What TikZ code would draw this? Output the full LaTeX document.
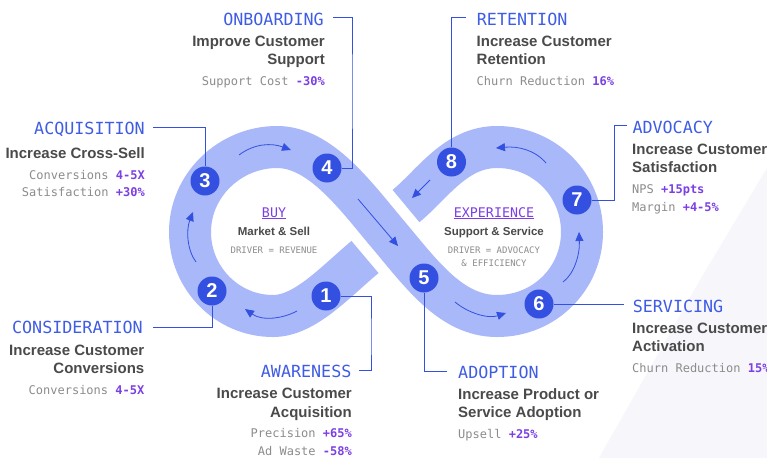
\documentclass[tikz,border=0pt]{standalone}
\usepackage{fontspec}
\setmainfont{Liberation Sans}
\setmonofont{DejaVu Sans Mono}
\usetikzlibrary{arrows.meta}
\definecolor{bandc}{HTML}{A9B8F9}
\definecolor{bluec}{HTML}{3350E0}
\definecolor{titlec}{HTML}{3F5CE4}
\definecolor{headc}{HTML}{4A4A4A}
\definecolor{greyc}{HTML}{8C8C8C}
\definecolor{purc}{HTML}{7B3FE4}
\definecolor{bgc}{HTML}{F6F6FB}
\newcommand{\pv}[1]{\textcolor{purc}{\textbf{#1}}}
\tikzset{
  num/.style={circle,fill=bluec,text=white,minimum size=29pt,inner sep=0pt,font=\fontsize{20}{20}\selectfont\bfseries},
  conn/.style={draw=bluec,line width=1pt},
  flow/.style={draw=bluec,line width=0.8pt,-{Triangle[length=9pt,width=8pt]}},
  tl/.style={inner ysep=0pt,text=titlec,font=\fontsize{16.7}{16.7}\selectfont\ttfamily,text height=15pt,text depth=0pt},
  tll/.style={tl,anchor=west},
  tlr/.style={tl,anchor=east},
  hl/.style={inner sep=0pt,text=headc,font=\fontsize{15}{15}\selectfont\bfseries,anchor=base west},
  hr/.style={hl,anchor=base east},
  ml/.style={inner sep=0pt,text=greyc,font=\fontsize{12}{12}\selectfont\ttfamily,anchor=base west},
  mr/.style={ml,anchor=base east},
  cbig/.style={inner sep=0pt,text=purc,font=\fontsize{13.3}{13.3}\selectfont\ttfamily,anchor=base},
  chead/.style={inner sep=0pt,text=headc,font=\fontsize{11.5}{11.5}\selectfont\bfseries,anchor=base},
  csmall/.style={inner sep=0pt,text=greyc,font=\fontsize{9}{9}\selectfont\ttfamily,anchor=base},
}
\begin{document}
\begin{tikzpicture}[x=1pt,y=-1pt]
\clip (0,0) rectangle (767,458);
\fill[white] (0,0) rectangle (767,458);
\fill[bgc] (599,458) -- (700,280) -- (767,168) -- (767,458) -- cycle;
% band
\draw[bandc,line width=42pt,line cap=butt]
  (365,257) .. controls (335,282) and (305,316) .. (273,316)
  .. controls (227,316) and (190,278) .. (190,232)
  .. controls (190,185) and (230,147) .. (277,147)
  .. controls (320,147) and (355,195) .. (386,232)
  .. controls (420,272) and (450,316) .. (497,316)
  .. controls (545,316) and (582,278) .. (582,232)
  .. controls (582,185) and (545,147) .. (497,147)
  .. controls (455,147) and (432,185) .. (406,206);
% flow arrows
\coordinate (fa1) at (239,155); \coordinate (fa2) at (291,150);
\coordinate (fb1) at (196,262); \coordinate (fb2) at (193,212);
\coordinate (fc1) at (297,311); \coordinate (fc2) at (245,309);
\coordinate (fd1) at (358,199); \coordinate (fd2) at (398,246);
\coordinate (fe1) at (455,302); \coordinate (fe2) at (506,313);
\coordinate (ff1) at (563,282); \coordinate (ff2) at (579,232);
\coordinate (fg1) at (546,163); \coordinate (fg2) at (496,148);
\coordinate (fh1) at (430,180); \coordinate (fh2) at (412,198);
\draw[flow] (fa1) .. controls (255,143) and (272,143) .. (fa2);
\draw[flow] (fb1) .. controls (187,250) and (186,230) .. (fb2);
\draw[flow] (fc1) .. controls (282,319) and (262,321) .. (fc2);
\draw[flow] (fd1) -- (fd2);
\draw[flow] (fe1) .. controls (468,313) and (488,319) .. (fe2);
\draw[flow] (ff1) .. controls (574,274) and (580,255) .. (ff2);
\draw[flow] (fg1) .. controls (535,150) and (518,146) .. (fg2);
\draw[flow] (fh1) -- (fh2);
% circles
\node[num] (n1) at (326,296) {1};
\node[num] (n2) at (212,291) {2};
\node[num] (n3) at (205,181) {3};
\node[num] (n4) at (327,168) {4};
\node[num] (n5) at (424,278) {5};
\node[num] (n6) at (539,304) {6};
\node[num] (n7) at (577,200) {7};
\node[num] (n8) at (451.5,162) {8};
% titles
\node[tlr,inner xsep=7.4pt] (t1) at (359,370) {AWARENESS};
\node[tlr,inner xsep=10pt,text height=11pt] (t2) at (153,327.5) {CONSIDERATION};
\node[tlr,inner xsep=8pt] (t3) at (153,127) {ACQUISITION};
\node[tlr,inner xsep=9pt] (t4) at (333,17.5) {ONBOARDING};
\node[tll,inner xsep=11pt] (t5) at (447,371) {ADOPTION};
\node[tll,inner xsep=8.6pt] (t6) at (624,305) {SERVICING};
\node[tll,inner xsep=5.3pt] (t7) at (627,125.5) {ADVOCACY};
\node[tll,inner xsep=11pt] (t8) at (465.7,17.5) {RETENTION};
% connector bends
\coordinate (k1) at (371,340);
\coordinate (k4) at (352,90);
\coordinate (k7) at (614,160);
% connectors
\draw[conn] (n1) -| (k1) |- (t1);
\draw[conn] (n2) |- (t2);
\draw[conn] (n3) |- (t3);
\draw[conn] (n4) -| (k4) |- (t4);
\draw[conn] (n5) |- (t5);
\draw[conn] (n6) -- (t6.west |- n6);
\draw[conn] (n7) -| (k7) |- (t7);
\draw[conn] (n8) |- (t8);
% onboarding
\node[hr] (h4a) at (325,46) {Improve Customer};
\node[hr] (h4b) at (325,64.5) {Support};
\node[mr] (m4a) at (325,85) {Support Cost \pv{-30\%}};
% acquisition
\node[hr] (h3a) at (145,158) {Increase Cross-Sell};
\node[mr] (m3a) at (145,179) {Conversions \pv{4-5X}};
\node[mr] (m3b) at (145,196.5) {Satisfaction \pv{+30\%}};
% consideration
\node[hr] (h2a) at (144.5,355) {Increase Customer};
\node[hr] (h2b) at (144.5,373.5) {Conversions};
\node[mr] (m2a) at (144.5,394) {Conversions \pv{4-5X}};
% awareness
\node[hr] (h1a) at (352,398.7) {Increase Customer};
\node[hr] (h1b) at (352,417) {Acquisition};
\node[mr] (m1a) at (352,437.7) {Precision \pv{+65\%}};
\node[mr] (m1b) at (352,455) {Ad Waste \pv{-58\%}};
% adoption
\node[hl] (h5a) at (458,399) {Increase Product or};
\node[hl] (h5b) at (458,417) {Service Adoption};
\node[ml] (m5a) at (458,438) {Upsell \pv{+25\%}};
% retention
\node[hl] (h8a) at (476.5,46) {Increase Customer};
\node[hl] (h8b) at (476.5,64.5) {Retention};
\node[ml] (m8a) at (476.5,85) {Churn Reduction \pv{16\%}};
% advocacy
\node[hl] (h7a) at (632,154) {Increase Customer};
\node[hl] (h7b) at (632,172) {Satisfaction};
\node[ml] (m7a) at (632,193) {NPS \pv{+15pts}};
\node[ml] (m7b) at (632,211) {Margin \pv{+4-5\%}};
% servicing
\node[hl] (h6a) at (632,333) {Increase Customer};
\node[hl] (h6b) at (632,351) {Activation};
\node[ml] (m6a) at (632,372) {Churn Reduction \pv{15\%}};
% centres
\node[cbig] (buy) at (274,217) {\underline{BUY}};
\node[chead] (buyh) at (274,235.5) {Market \& Sell};
\node[csmall] (buyd) at (274,253) {DRIVER = REVENUE};
\node[cbig] (exp) at (494,217) {\underline{EXPERIENCE}};
\node[chead] (exph) at (494,235.5) {Support \& Service};
\node[csmall] (expd) at (494,253) {DRIVER = ADVOCACY};
\node[csmall] (expe) at (494,266) {\& EFFICIENCY};
\end{tikzpicture}
\end{document}
